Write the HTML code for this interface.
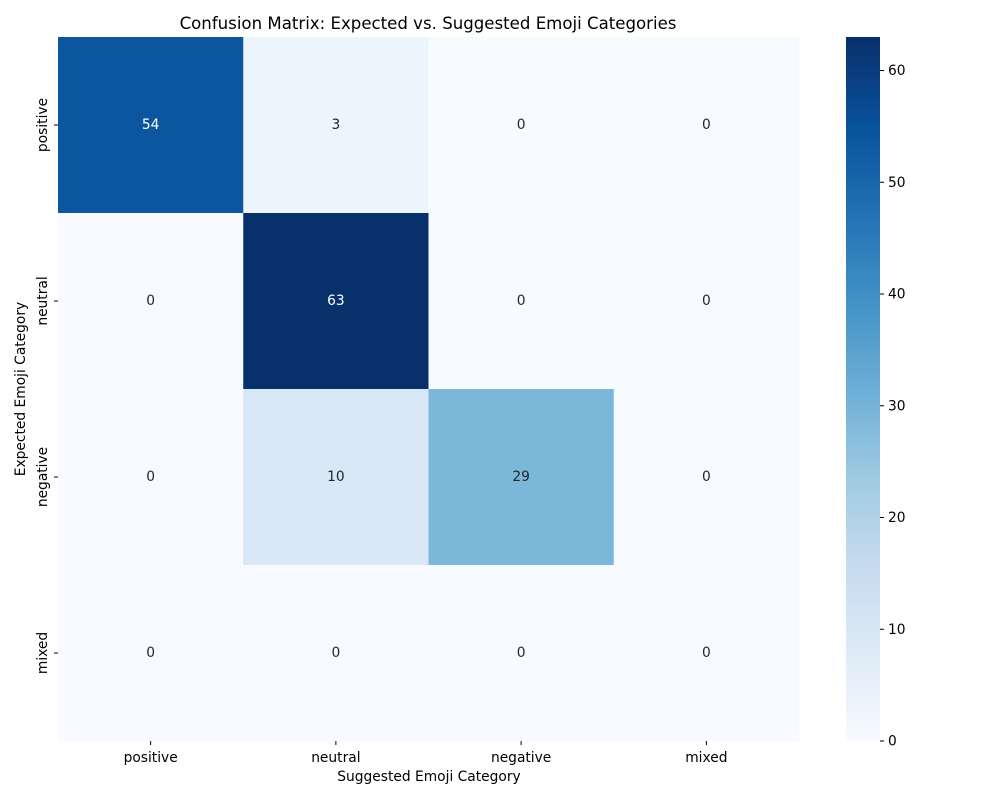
<!DOCTYPE html>
<html><head><meta charset="utf-8"><style>
body{margin:0;background:#fff;font-family:"DejaVu Sans","Liberation Sans",sans-serif}
</style></head><body>
<svg id="chart" width="1000" height="800" xmlns="http://www.w3.org/2000/svg" font-family="DejaVu Sans, Liberation Sans, sans-serif"></svg>
<script>
const categories = ["positive","neutral","negative","mixed"];
const matrixValues = [
  [54,3,0,0],
  [0,63,0,0],
  [0,10,29,0],
  [0,0,0,0]
];
const colorbarTicks = [0,10,20,30,40,50,60];
const vmax = 63;

const svg = document.getElementById('chart');
const NS = 'http://www.w3.org/2000/svg';
const X0=58, X1=799, Y0=37, Y1=741;
const FS=13.8;
const cw=(X1-X0)/categories.length, ch=(Y1-Y0)/categories.length;
const xScale=i=>X0+i*cw, yScale=i=>Y0+i*ch;
const stops=["#f7fbff","#deebf7","#c6dbef","#9ecae1","#6baed6","#4292c6","#2171b5","#08519c","#08306b"];
function hex(h){return [1,3,5].map(i=>parseInt(h.substr(i,2),16));}
function blues(t){t=Math.max(0,Math.min(1,t));const p=t*(stops.length-1);const i=Math.min(Math.floor(p),stops.length-2);const f=p-i;const a=hex(stops[i]),b=hex(stops[i+1]);return 'rgb('+a.map((v,k)=>Math.round(v+(b[k]-v)*f)).join(',')+')';}
function el(tag,attrs,text){const e=document.createElementNS(NS,tag);for(const k in attrs)e.setAttribute(k,attrs[k]);if(text!==undefined)e.textContent=text;svg.appendChild(e);return e;}

let t=el('text',{x:428,y:29,'text-anchor':'middle','font-size':16.6,fill:'#000'},'Confusion Matrix: Expected vs. Suggested Emoji Categories');



matrixValues.forEach((row,r)=>row.forEach((v,c)=>{
  const rect=el('rect',{x:xScale(c),y:yScale(r),width:cw+0.5,height:ch+0.5,fill:blues(v/vmax)});
  
  
  const lbl=el('text',{x:xScale(c)+cw/2,y:yScale(r)+ch/2+4,'text-anchor':'middle','font-size':FS,fill:v/vmax>0.5?'#fff':'#262626'},String(v));
  
  
}));

categories.forEach((cat,i)=>{
  const cx=xScale(i)+cw/2;
  el('line',{x1:cx,x2:cx,y1:Y1,y2:Y1+4,stroke:'#000'});
  const xl=el('text',{x:cx,y:Y1+21,'text-anchor':'middle','font-size':FS,fill:'#000'},cat);
  
  
  const cy=yScale(i)+ch/2;
  el('line',{x1:X0-4,x2:X0,y1:cy,y2:cy,stroke:'#000'});
  const yl=el('text',{x:0,y:0,'text-anchor':'middle','font-size':FS,fill:'#000',transform:'translate(47,'+cy+') rotate(-90)'},cat);
  
  
});
const xt=el('text',{x:429,y:781,'text-anchor':'middle','font-size':FS,fill:'#000'},'Suggested Emoji Category');


const yt=el('text',{x:0,y:0,'text-anchor':'middle','font-size':FS,fill:'#000',transform:'translate(25,389) rotate(-90)'},'Expected Emoji Category');



const CX=846, CW=34;
const defs=el('defs',{});
const g=document.createElementNS(NS,'linearGradient');
g.setAttribute('id','cb');g.setAttribute('x1','0');g.setAttribute('y1','1');g.setAttribute('x2','0');g.setAttribute('y2','0');
stops.forEach((s,i)=>{const st=document.createElementNS(NS,'stop');st.setAttribute('offset',i/(stops.length-1));st.setAttribute('stop-color',s);g.appendChild(st);});
defs.appendChild(g);
const cb=el('rect',{x:CX,y:Y0,width:CW,height:Y1-Y0,fill:'url(#cb)'});


const cbScale=v=>Y1-v/vmax*(Y1-Y0);
colorbarTicks.forEach(v=>{
  const y=cbScale(v);
  el('line',{x1:CX+CW,x2:CX+CW+4,y1:y,y2:y,stroke:'#000'});
  const l=el('text',{x:CX+CW+8,y:y+4.5,'font-size':FS,fill:'#000'},String(v));
  
  
});
</script>
</body></html>
